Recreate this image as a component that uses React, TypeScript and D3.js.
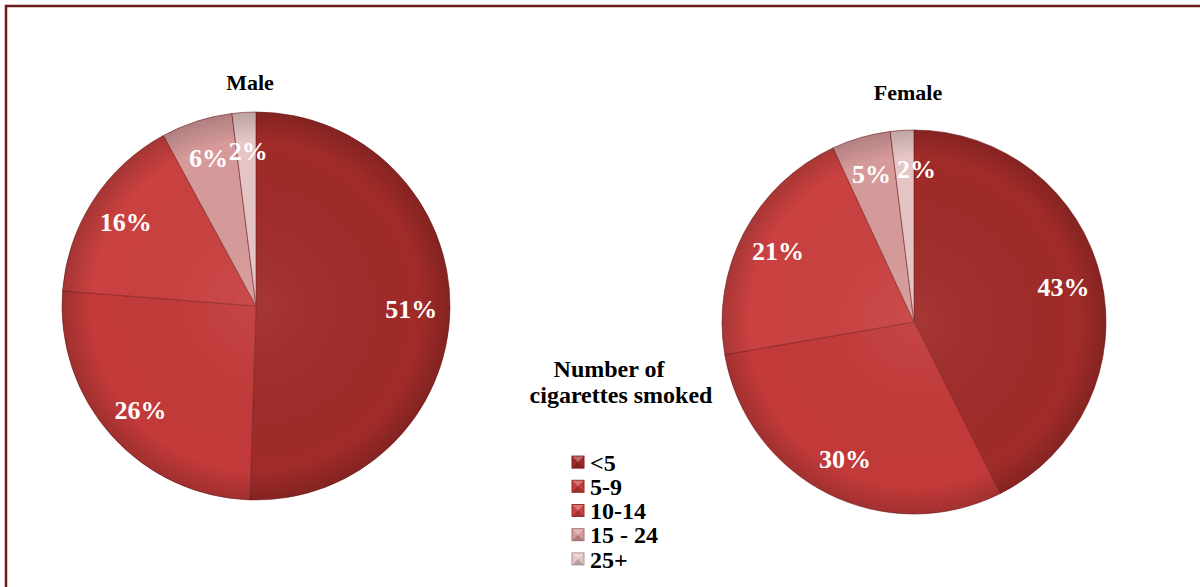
import React, { useRef, useEffect } from 'react';
import * as d3 from 'd3';

// data
const categories = ['<5', '5-9', '10-14', '15 - 24', '25+'];
const maleValues = [51, 26, 16, 6, 2];
const femaleValues = [43, 30, 21, 5, 2];
const colors = ['#a02b29', '#c23a39', '#c94140', '#d69a9a', '#e6c6c6'];

const W = 1200;
const H = 587;
const FONT = '"Liberation Serif", "Times New Roman", serif';

const App: React.FC = () => {
  const svgRef = useRef<SVGSVGElement | null>(null);

  useEffect(() => {
    const svg = d3.select(svgRef.current);
    svg.selectAll('*').remove();

    const defs = svg.append('defs');
    const shade = defs.append('radialGradient')
      .attr('id', 'shade')
      .attr('gradientUnits', 'userSpaceOnUse')
      .attr('cx', 0).attr('cy', 0).attr('r', 194);
    shade.append('stop').attr('offset', '0%').attr('stop-color', '#fff').attr('stop-opacity', 0.06);
    shade.append('stop').attr('offset', '85%').attr('stop-color', '#000').attr('stop-opacity', 0.0);
    shade.append('stop').attr('offset', '100%').attr('stop-color', '#000').attr('stop-opacity', 0.18);

    // frame
    svg.append('path')
      .attr('d', `M6,${H} L6,6 L${W},6`)
      .attr('fill', 'none')
      .attr('stroke', '#6b1e1e')
      .attr('stroke-width', 2.5);

    const pie = d3.pie<number>().sort(null).value(d => d);

    const drawPie = (values: number[], cx: number, cy: number, r: number, title: string, titleY: number, spread: number) => {
      const g = svg.append('g').attr('transform', `translate(${cx},${cy})`);
      const arc = d3.arc<d3.PieArcDatum<number>>().innerRadius(0).outerRadius(r);
      const labelArc = d3.arc<d3.PieArcDatum<number>>().innerRadius(r * 0.8).outerRadius(r * 0.8);
      const arcs = pie(values);

      g.selectAll('path.slice')
        .data(arcs)
        .enter()
        .append('path')
        .attr('class', 'slice')
        .attr('d', arc)
        .attr('fill', (_, i) => colors[i])
        .attr('stroke', '#7a2020')
        .attr('stroke-opacity', 0.6)
        .attr('stroke-width', 1);

      g.selectAll('path.shade')
        .data(arcs)
        .enter()
        .append('path')
        .attr('class', 'shade')
        .attr('d', arc)
        .attr('fill', 'url(#shade)')
        .attr('pointer-events', 'none');

      // the last (smallest) label is pushed right a little so it clears its neighbour
      g.selectAll('text.lbl')
        .data(arcs)
        .enter()
        .append('text')
        .attr('class', 'lbl')
        .attr('transform', (d, i) => {
          const [x, y] = labelArc.centroid(d);
          return `translate(${x + (i === arcs.length - 1 ? spread : 0)},${y})`;
        })
        .attr('text-anchor', 'middle')
        .attr('dy', '0.35em')
        .attr('fill', '#fff')
        .style('font-family', FONT)
        .style('font-weight', 'bold')
        .style('font-size', '26px')
        .text(d => `${d.data}%`);

      svg.append('text')
        .attr('x', cx - 6)
        .attr('y', titleY)
        .attr('text-anchor', 'middle')
        .style('font-family', FONT)
        .style('font-weight', 'bold')
        .style('font-size', '22px')
        .text(title);
    };

    drawPie(maleValues, 256, 306, 194, 'Male', 90, 2);
    drawPie(femaleValues, 914, 322, 192, 'Female', 100, 12);

    // legend
    const legendTitle = svg.append('text')
      .attr('text-anchor', 'middle')
      .style('font-family', FONT)
      .style('font-weight', 'bold')
      .style('font-size', '24px');
    legendTitle.append('tspan').attr('x', 609).attr('y', 377).text('Number of');
    legendTitle.append('tspan').attr('x', 621).attr('y', 403).text('cigarettes smoked');

    const ly = d3.scaleBand<string>().domain(categories).range([450, 571]);
    const leg = svg.append('g');
    const items = leg.selectAll('g.item')
      .data(categories)
      .enter()
      .append('g')
      .attr('class', 'item')
      .attr('transform', d => `translate(572,${(ly(d) as number) + ly.bandwidth() / 2})`);

    items.append('rect')
      .attr('x', 0).attr('y', -6)
      .attr('width', 12).attr('height', 12)
      .attr('fill', (_, i) => colors[i])
      .attr('stroke', (_, i) => d3.color(colors[i])!.darker(0.8).toString())
      .attr('stroke-width', 1);
    items.append('path')
      .attr('d', 'M0.5,-5.5 L6,0 L11.5,-5.5 Z')
      .attr('fill', '#fff')
      .attr('fill-opacity', 0.3);
    items.append('path')
      .attr('d', 'M0.5,5.5 L6,0 L11.5,5.5 Z')
      .attr('fill', '#000')
      .attr('fill-opacity', 0.2);

    items.append('text')
      .attr('x', 18)
      .attr('y', 0)
      .attr('dy', '0.36em')
      .style('font-family', FONT)
      .style('font-weight', 'bold')
      .style('font-size', '24px')
      .text(d => d);
  }, []);

  return (
    <svg
      ref={svgRef}
      width={W}
      height={H}
      style={{ position: 'absolute', left: 0, top: 0, background: '#fff' }}
    />
  );
};

export default App;
